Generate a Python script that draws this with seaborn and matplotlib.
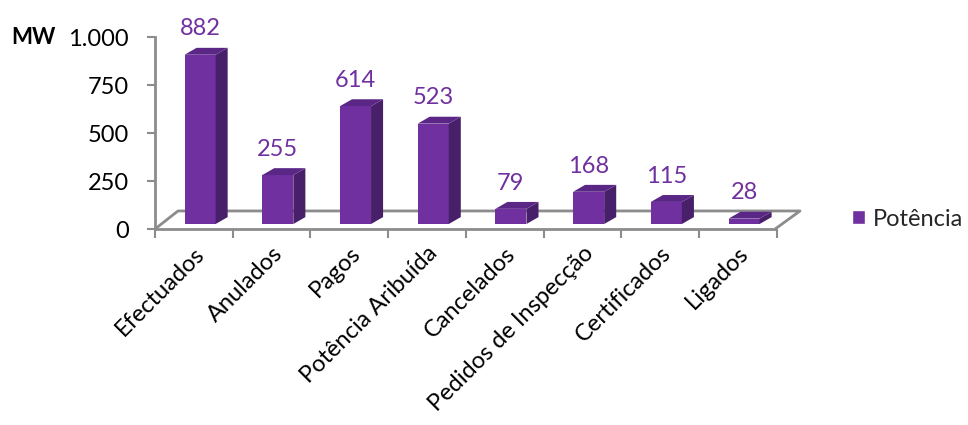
import matplotlib
matplotlib.use("Agg")
import matplotlib.pyplot as plt
from matplotlib.patches import Polygon, Patch
from matplotlib.transforms import ScaledTranslation
import seaborn as sns

# Data
categorias = ["Efectuados", "Anulados", "Pagos", "Potência Aribuída", "Cancelados",
              "Pedidos de Inspecção", "Certificados", "Ligados"]
potencia = [882, 255, 614, 523, 79, 168, 115, 28]
y_ticks = [0, 250, 500, 750, 1000]
y_tick_labels = ["0", "250", "500", "750", "1.000"]
serie = "Potência"
unidade = "MW"

sns.set_theme(style="white")
plt.rcParams["font.family"] = ["Lato", "DejaVu Sans"]

FRONT = "#7030A0"
SIDE = "#48206A"
TOP = "#5B2787"
GRID = "#8C8C8C"
FS = 17

fig = plt.figure(figsize=(9.68, 4.25), dpi=100)
ax = fig.add_axes([155 / 968, (425 - 229) / 425, (800 - 155) / 968, (229 - 20) / 425])

bar_w = 0.4
sns.barplot(x=categorias, y=potencia, color=FRONT, saturation=1, width=bar_w,
            ax=ax, zorder=3, linewidth=0)

# pseudo-3D geometry (floor depth and bar depth, in data units)
floor_dx, floor_dy = 0.30, 94
base = 26
shift = 0.08
bdx, bdy = 0.155, 36

# floor outline
ax.plot([-0.5, -0.204, 7.8, 7.48], [0, floor_dy, floor_dy, 0], color=GRID, lw=2,
        zorder=1, solid_capstyle="butt", clip_on=False)

for p, v in zip(ax.patches, potencia):
    x0 = p.get_x() + shift
    w = p.get_width()
    h = p.get_height()
    p.set_x(x0)
    p.set_y(base)
    side = Polygon([(x0 + w, base), (x0 + w + bdx, base + bdy),
                    (x0 + w + bdx, base + h + bdy), (x0 + w, base + h)],
                   closed=True, facecolor=SIDE, edgecolor="none", zorder=3)
    top = Polygon([(x0, base + h), (x0 + w, base + h),
                   (x0 + w + bdx, base + h + bdy), (x0 + bdx, base + h + bdy)],
                  closed=True, facecolor=TOP, edgecolor="none", zorder=3)
    ax.add_patch(side)
    ax.add_patch(top)
    ax.annotate(f"{v}", xy=(x0 + w / 2, base + h + bdy), xytext=(0, 6),
                textcoords="offset points", ha="center", va="bottom",
                color=FRONT, fontsize=FS, annotation_clip=False, zorder=5)

ax.set_xlim(-0.5, 7.8)
ax.set_ylim(0, 1089)

# axes lines
for s in ["top", "right"]:
    ax.spines[s].set_visible(False)
ax.spines["left"].set_bounds(0, 1000)
ax.spines["bottom"].set_bounds(-0.5, 7.48)
for s in ["left", "bottom"]:
    ax.spines[s].set_color(GRID)
    ax.spines[s].set_linewidth(2)
    ax.spines[s].set_zorder(2)

ax.set_yticks(y_ticks)
ax.set_yticklabels(y_tick_labels, fontsize=FS, color="black")
ax.tick_params(axis="y", which="major", left=True, length=6, width=1.5,
               color=GRID, pad=13)

ax.set_xticks(range(len(categorias)))
ax.set_xticklabels(categorias, rotation=45, ha="right", va="top",
                   rotation_mode="anchor", fontsize=FS, color="black")
shift_lbl = ScaledTranslation(-5 / 100, 0, fig.dpi_scale_trans)
for lbl in ax.get_xticklabels():
    lbl.set_transform(lbl.get_transform() + shift_lbl)
ax.set_xticks([i - 0.5 for i in range(len(categorias) + 1)], minor=True)
ax.tick_params(axis="x", which="major", bottom=True, length=0, pad=10)
ax.tick_params(axis="x", which="minor", bottom=True, length=6.5, width=1.5,
               color=GRID)
ax.set_xlabel("")
ax.set_ylabel("")
ax.grid(False)
ax.set_facecolor("none")

fig.text(11 / 968, 1 - 37 / 425, unidade, fontsize=16, fontweight="bold",
         ha="left", va="center", color="black")

fig.legend(handles=[Patch(facecolor=FRONT, label=serie)], loc="center left",
           bbox_to_anchor=(852 / 968, 1 - 219 / 425), frameon=False,
           fontsize=FS, handlelength=0.55, handleheight=0.55, handletextpad=0.35,
           borderpad=0, borderaxespad=0)

fig.savefig("out.png", dpi=100)
